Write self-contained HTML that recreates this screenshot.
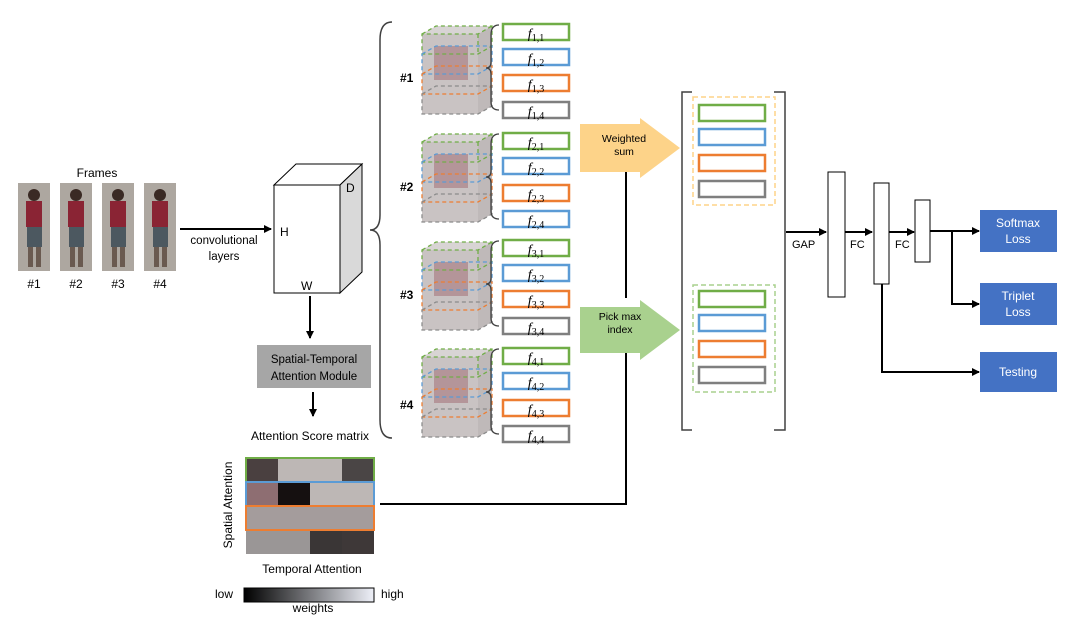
<!DOCTYPE html>
<html><head><meta charset="utf-8"><style>
body{margin:0;background:#fff}
svg{display:block;font-family:"Liberation Sans",sans-serif}
</style></head><body>
<svg width="1080" height="626" viewBox="0 0 1080 626" xmlns="http://www.w3.org/2000/svg">
<defs>
<marker id="ah" markerWidth="8" markerHeight="8" refX="7" refY="4" orient="auto" markerUnits="userSpaceOnUse"><path d="M0,0 L8,4 L0,8 z" fill="#000"/></marker>
<linearGradient id="wg" x1="0" x2="1"><stop offset="0" stop-color="#000"/><stop offset="1" stop-color="#eef0f8"/></linearGradient>
<g id="person">
<rect x="0" y="0" width="32" height="88" fill="#b9b5ae"/>
<rect x="0" y="0" width="32" height="88" fill="#9a948c" opacity="0.4"/>
<circle cx="16" cy="12" r="6" fill="#3a2a24"/>
<rect x="8" y="18" width="16" height="26" fill="#8a2434"/>
<rect x="9" y="44" width="15" height="20" fill="#4c5860"/>
<rect x="10" y="64" width="5" height="20" fill="#6a5a50"/>
<rect x="18" y="64" width="5" height="20" fill="#6a5a50"/>
</g>
<g id="cube">
<rect x="0" y="8" width="56" height="80" fill="#c9c3c3"/>
<polygon points="0,8 14,0 70,0 56,8" fill="#d8d4d4"/>
<polygon points="56,8 70,0 70,80 56,88" fill="#bfb9b9"/>
<rect x="12" y="20" width="34" height="34" fill="#a06870" opacity="0.5"/>
<g fill="none" stroke-dasharray="4,3" stroke-width="1.3">
<polyline points="0,8 14,0 70,0 70,20 56,28 0,28 0,8 56,8 70,0" stroke="#70ad47"/>
<line x1="56" y1="8" x2="56" y2="28" stroke="#70ad47"/>
<polyline points="0,28 14,20 70,20 70,40 56,48 0,48 0,28" stroke="#5b9bd5"/>
<polyline points="0,48 14,40 70,40 70,60 56,68 0,68 0,48" stroke="#ed7d31"/>
<polyline points="0,68 14,60 70,60 70,80 56,88 0,88 0,68" stroke="#8c8c8c"/>
</g>
</g>
</defs>

<text x="97" y="177" font-size="12" text-anchor="middle">Frames</text>
<use href="#person" x="18" y="183"/>
<use href="#person" x="60" y="183"/>
<use href="#person" x="102" y="183"/>
<use href="#person" x="144" y="183"/>
<g font-size="12" text-anchor="middle"><text x="34" y="288">#1</text><text x="76" y="288">#2</text><text x="118" y="288">#3</text><text x="160" y="288">#4</text></g>

<line x1="180" y1="229" x2="271" y2="229" stroke="#000" stroke-width="2" marker-end="url(#ah)"/>
<text x="224" y="244" font-size="11.5" text-anchor="middle">convolutional</text>
<text x="224" y="260" font-size="11.5" text-anchor="middle">layers</text>

<g stroke="#000" stroke-width="1">
<polygon points="274,185 296,164 362,164 340,185" fill="#fff"/>
<polygon points="340,185 362,164 362,272 340,293" fill="#d9d9d9"/>
<rect x="274" y="185" width="66" height="108" fill="#fff"/>
</g>
<text x="280" y="236" font-size="12">H</text>
<text x="301" y="290" font-size="12">W</text>
<text x="346" y="192" font-size="12">D</text>

<line x1="310" y1="296" x2="310" y2="338" stroke="#000" stroke-width="2" marker-end="url(#ah)"/>
<rect x="257" y="345" width="114" height="43" fill="#a6a6a6"/>
<text x="314" y="363" font-size="11.5" text-anchor="middle">Spatial-Temporal</text>
<text x="314" y="380" font-size="11.5" text-anchor="middle">Attention Module</text>
<line x1="313" y1="392" x2="313" y2="416" stroke="#000" stroke-width="2" marker-end="url(#ah)"/>
<text x="310" y="440" font-size="12" text-anchor="middle">Attention Score matrix</text>

<g>
<rect x="246" y="458" width="128" height="96" fill="#bdb7b5"/>
<rect x="246" y="458" width="32" height="24" fill="#4a4040"/>
<rect x="342" y="458" width="32" height="24" fill="#4a4545"/>
<rect x="278" y="482" width="32" height="24" fill="#151010"/>
<rect x="310" y="530" width="32" height="24" fill="#3a3636"/>
<rect x="342" y="530" width="32" height="24" fill="#3e3838"/>
<rect x="246" y="482" width="32" height="24" fill="#8e6e72"/>
<rect x="246" y="506" width="128" height="24" fill="#a49c9c"/>
<rect x="246" y="530" width="64" height="24" fill="#9a9696"/>
<rect x="246" y="458" width="128" height="24" fill="none" stroke="#70ad47" stroke-width="2"/>
<rect x="246" y="482" width="128" height="24" fill="none" stroke="#5b9bd5" stroke-width="2"/>
<rect x="246" y="506" width="128" height="24" fill="none" stroke="#ed7d31" stroke-width="2"/>
</g>
<text transform="translate(232,505) rotate(-90)" font-size="12" text-anchor="middle">Spatial Attention</text>
<text x="312" y="573" font-size="12" text-anchor="middle">Temporal Attention</text>
<text x="215" y="598" font-size="12">low</text>
<rect x="244" y="588" width="130" height="14" fill="url(#wg)" stroke="#000" stroke-width="1"/>
<text x="381" y="598" font-size="12">high</text>
<text x="313" y="612" font-size="12" text-anchor="middle">weights</text>

<polyline points="380,504 626,504 626,342" fill="none" stroke="#000" stroke-width="2" marker-end="url(#ah)"/>
<line x1="626" y1="298" x2="626" y2="162" stroke="#000" stroke-width="2" marker-end="url(#ah)"/>

<path d="M392,22 Q380,22 380,40 L380,215 Q380,230 370,230 Q380,230 380,245 L380,420 Q380,438 392,438" fill="none" stroke="#404040" stroke-width="1.5"/>

<g font-size="12" font-weight="bold">
<text x="400" y="82">#1</text><text x="400" y="191">#2</text><text x="400" y="299">#3</text><text x="400" y="409">#4</text>
</g>
<use href="#cube" x="422" y="26"/>
<use href="#cube" x="422" y="134"/>
<use href="#cube" x="422" y="242"/>
<use href="#cube" x="422" y="349"/>

<g fill="none" stroke="#404040" stroke-width="1.3">
<path d="M499,25 Q491,25 491,35 L491,62 Q491,68 486,68 Q491,68 491,74 L491,102 Q491,110 499,110"/>
<path d="M499,134 Q491,134 491,144 L491,171 Q491,177 486,177 Q491,177 491,183 L491,211 Q491,219 499,219"/>
<path d="M499,241 Q491,241 491,251 L491,278 Q491,284 486,284 Q491,284 491,290 L491,318 Q491,326 499,326"/>
<path d="M499,349 Q491,349 491,359 L491,386 Q491,392 486,392 Q491,392 491,398 L491,426 Q491,434 499,434"/>
</g>

<g fill="#fff" stroke-width="2.5">
<rect x="503" y="24" width="66" height="16" stroke="#70ad47"/>
<rect x="503" y="49" width="66" height="16" stroke="#5b9bd5"/>
<rect x="503" y="75" width="66" height="16" stroke="#ed7d31"/>
<rect x="503" y="102" width="66" height="16" stroke="#7f7f7f"/>
<rect x="503" y="133" width="66" height="16" stroke="#70ad47"/>
<rect x="503" y="158" width="66" height="16" stroke="#5b9bd5"/>
<rect x="503" y="185" width="66" height="16" stroke="#ed7d31"/>
<rect x="503" y="211" width="66" height="16" stroke="#5b9bd5"/>
<rect x="503" y="240" width="66" height="16" stroke="#70ad47"/>
<rect x="503" y="265" width="66" height="16" stroke="#5b9bd5"/>
<rect x="503" y="291" width="66" height="16" stroke="#ed7d31"/>
<rect x="503" y="318" width="66" height="16" stroke="#7f7f7f"/>
<rect x="503" y="348" width="66" height="16" stroke="#70ad47"/>
<rect x="503" y="373" width="66" height="16" stroke="#5b9bd5"/>
<rect x="503" y="400" width="66" height="16" stroke="#ed7d31"/>
<rect x="503" y="426" width="66" height="16" stroke="#7f7f7f"/>
</g>
<g font-family="Liberation Serif,serif" font-size="14" text-anchor="middle" font-style="italic">
<text x="536" y="38">f<tspan font-size="10" dy="3" font-style="normal">1,1</tspan></text>
<text x="536" y="63">f<tspan font-size="10" dy="3" font-style="normal">1,2</tspan></text>
<text x="536" y="89">f<tspan font-size="10" dy="3" font-style="normal">1,3</tspan></text>
<text x="536" y="116">f<tspan font-size="10" dy="3" font-style="normal">1,4</tspan></text>
<text x="536" y="147">f<tspan font-size="10" dy="3" font-style="normal">2,1</tspan></text>
<text x="536" y="172">f<tspan font-size="10" dy="3" font-style="normal">2,2</tspan></text>
<text x="536" y="199">f<tspan font-size="10" dy="3" font-style="normal">2,3</tspan></text>
<text x="536" y="225">f<tspan font-size="10" dy="3" font-style="normal">2,4</tspan></text>
<text x="536" y="254">f<tspan font-size="10" dy="3" font-style="normal">3,1</tspan></text>
<text x="536" y="279">f<tspan font-size="10" dy="3" font-style="normal">3,2</tspan></text>
<text x="536" y="305">f<tspan font-size="10" dy="3" font-style="normal">3,3</tspan></text>
<text x="536" y="332">f<tspan font-size="10" dy="3" font-style="normal">3,4</tspan></text>
<text x="536" y="362">f<tspan font-size="10" dy="3" font-style="normal">4,1</tspan></text>
<text x="536" y="387">f<tspan font-size="10" dy="3" font-style="normal">4,2</tspan></text>
<text x="536" y="414">f<tspan font-size="10" dy="3" font-style="normal">4,3</tspan></text>
<text x="536" y="440">f<tspan font-size="10" dy="3" font-style="normal">4,4</tspan></text>
</g>

<polygon points="580,124 640,124 640,118 680,148 640,178 640,172 580,172" fill="#fdd389"/>
<text x="624" y="142" font-size="10.5" text-anchor="middle">Weighted</text>
<text x="624" y="155" font-size="10.5" text-anchor="middle">sum</text>
<polygon points="580,307 640,307 640,300 680,330 640,360 640,353 580,353" fill="#a9d18e"/>
<text x="620" y="320" font-size="10.5" text-anchor="middle">Pick max</text>
<text x="620" y="333" font-size="10.5" text-anchor="middle">index</text>

<path d="M692,92 L682,92 L682,430 L692,430 M774,92 L785,92 L785,430 L774,430" fill="none" stroke="#404040" stroke-width="1.5"/>
<rect x="693" y="97" width="82" height="108" fill="none" stroke="#fdd389" stroke-width="1.5" stroke-dasharray="5,3"/>
<rect x="693" y="285" width="82" height="107" fill="none" stroke="#a9d18e" stroke-width="1.5" stroke-dasharray="5,3"/>
<g fill="#fff" stroke-width="2.5">
<rect x="699" y="105" width="66" height="16" stroke="#70ad47"/>
<rect x="699" y="129" width="66" height="16" stroke="#5b9bd5"/>
<rect x="699" y="155" width="66" height="16" stroke="#ed7d31"/>
<rect x="699" y="181" width="66" height="16" stroke="#7f7f7f"/>
<rect x="699" y="291" width="66" height="16" stroke="#70ad47"/>
<rect x="699" y="315" width="66" height="16" stroke="#5b9bd5"/>
<rect x="699" y="341" width="66" height="16" stroke="#ed7d31"/>
<rect x="699" y="367" width="66" height="16" stroke="#7f7f7f"/>
</g>

<line x1="786" y1="232" x2="826" y2="232" stroke="#000" stroke-width="2" marker-end="url(#ah)"/>
<text x="792" y="248" font-size="11">GAP</text>
<rect x="828" y="172" width="17" height="125" fill="#fff" stroke="#000"/>
<line x1="845" y1="232" x2="872" y2="232" stroke="#000" stroke-width="2" marker-end="url(#ah)"/>
<text x="850" y="248" font-size="11">FC</text>
<rect x="874" y="183" width="15" height="101" fill="#fff" stroke="#000"/>
<line x1="889" y1="232" x2="914" y2="232" stroke="#000" stroke-width="2" marker-end="url(#ah)"/>
<text x="895" y="248" font-size="11">FC</text>
<rect x="915" y="200" width="15" height="62" fill="#fff" stroke="#000"/>
<line x1="930" y1="231" x2="979" y2="231" stroke="#000" stroke-width="2" marker-end="url(#ah)"/>
<polyline points="952,231 952,304 979,304" fill="none" stroke="#000" stroke-width="2" marker-end="url(#ah)"/>
<polyline points="882,284 882,372 979,372" fill="none" stroke="#000" stroke-width="2" marker-end="url(#ah)"/>

<g fill="#4472c4"><rect x="980" y="210" width="77" height="42"/><rect x="980" y="283" width="77" height="42"/><rect x="980" y="352" width="77" height="40"/></g>
<g fill="#fff" font-size="12" text-anchor="middle">
<text x="1018" y="227">Softmax</text><text x="1018" y="243">Loss</text>
<text x="1018" y="300">Triplet</text><text x="1018" y="316">Loss</text>
<text x="1018" y="376">Testing</text>
</g>
</svg>
</body></html>
